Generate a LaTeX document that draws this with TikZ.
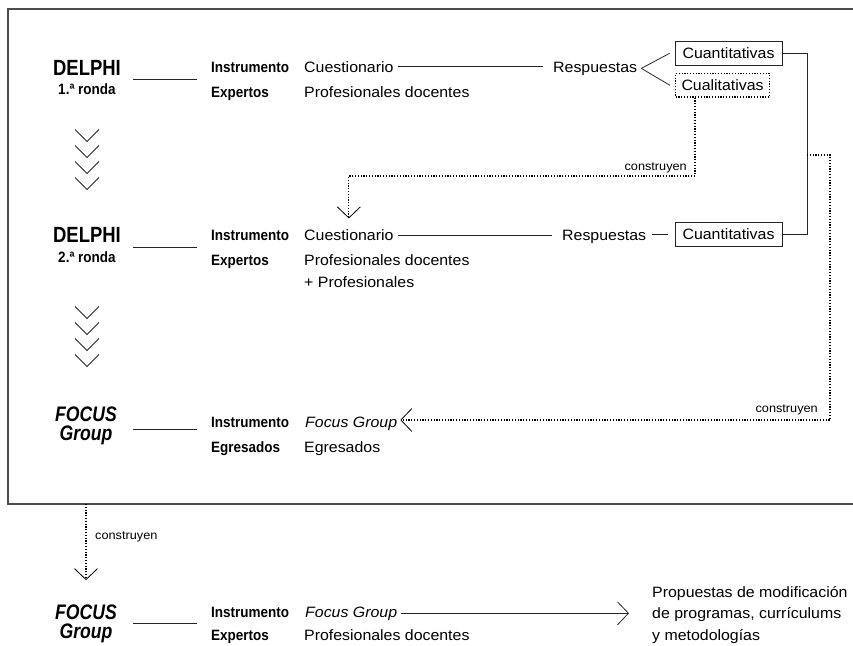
\documentclass[tikz,border=0pt]{standalone}
\usepackage{fontspec}
\setmainfont{Liberation Sans}[FakeStretch=1.06]
\newfontfamily\lblfont{Liberation Sans}[FakeStretch=0.9]
\newfontfamily\headfont{Liberation Sans}[FakeStretch=0.84]
\usetikzlibrary{arrows.meta}
\begin{document}
\begin{tikzpicture}[x=1pt,y=-1pt,
  txt/.style={inner sep=0pt, anchor=base west, font=\fontsize{15}{21.5}\selectfont},
  txti/.style={txt, font=\itshape\fontsize{15}{21}\selectfont},
  lbl/.style={inner sep=0pt, anchor=base west, font=\lblfont\bfseries\fontsize{15}{18}\selectfont},
  head/.style={inner sep=0pt, anchor=base, font=\headfont\bfseries\fontsize{22}{24}\selectfont},
  headit/.style={inner sep=0pt, anchor=base, font=\headfont\bfseries\itshape\fontsize{21}{24}\selectfont},
  small/.style={inner sep=0pt, font=\fontsize{12}{14}\selectfont},
  conn/.style={line width=0.8pt, draw=black!85},
  dots/.style={line width=1.2pt, dash pattern=on 1.2pt off 1.6pt, draw=black},
  vtip/.style={-{Straight Barb[length=11pt,width=23pt,line width=0.8pt]}},
  qbox/.style={draw=black!85, line width=0.8pt, inner sep=0pt, minimum height=23.5pt, font=\fontsize{15}{18}\selectfont},
  frame/.style={line width=1.3pt, draw=black!70}
]
\useasboundingbox (0,0) rectangle (853,645);

% frame
\coordinate (fr1) at (853,9);
\coordinate (fr2) at (8,9);
\coordinate (fr3) at (8,504);
\coordinate (fr4) at (853,504);
\draw[frame] (fr1) -- (fr2) -- (fr3) -- (fr4);

% ---------- Row 1 ----------
\node[head] (d1) at (87,75) {DELPHI};
\node[lbl, anchor=base] (d1r) at (87,94) {1.ª ronda};
\coordinate (h1a) at (133,79);
\coordinate (h1b) at (197,79);
\draw[conn] (h1a) -- (h1b);
\node[lbl] (i1) at (211,72) {Instrumento};
\node[lbl] (e1) at (211,97) {Expertos};
\node[txt] (q1) at (304,72) {Cuestionario};
\node[txt] (p1) at (304,97) {Profesionales docentes};
\node[txt] (r1) at (553,72) {Respuestas};
\draw[conn, shorten <=4pt, shorten >=10pt] (q1.east) -- (q1.east -| r1.west);
\node[qbox, minimum width=107pt] (c1) at (728.5,53.3) {Cuantitativas};
\node[qbox, dots, anchor=west, minimum width=94pt] (l1) at (675,85.3) {Cualitativas};
\draw[conn] ([xshift=4pt]r1.east) -- ([xshift=-5pt]c1.west);
\draw[conn] ([xshift=4pt]r1.east) -- ([xshift=-5pt]l1.west);

% chevrons 1
\foreach \yy in {129.5,145.5,161.5,177.5}{
  \draw[conn] (75,\yy) -- ++(12,12) -- ++(12,-12);
}

% ---------- Row 2 ----------
\node[head] (d2) at (87,242.5) {DELPHI};
\node[lbl, anchor=base] (d2r) at (87,262) {2.ª ronda};
\coordinate (h2a) at (133,247.7);
\coordinate (h2b) at (197,247.7);
\draw[conn] (h2a) -- (h2b);
\node[lbl] (i2) at (211,240.5) {Instrumento};
\node[lbl] (e2) at (211,265) {Expertos};
\node[txt] (q2) at (304,240.5) {Cuestionario};
\node[txt] (p2) at (304,265) {Profesionales docentes};
\node[txt] (p2b) at (304,287) {+ Profesionales};
\node[txt] (r2) at (562,240.5) {Respuestas};
\draw[conn, shorten <=4pt, shorten >=10pt] (q2.east) -- (q2.east -| r2.west);
\node[qbox, minimum width=107pt] (c2) at (728.5,234.2) {Cuantitativas};
\draw[conn, shorten <=6pt, shorten >=7pt] (c2.west -| r2.east) -- (c2.west);

% bracket between the two Cuantitativas boxes
\coordinate (bx) at (807,155);
\draw[conn] (c1.east) -- (c1.east -| bx) -- (c2.east -| bx) -- (c2.east);

% dotted: Cualitativas -> Cuestionario (2nd round)
\coordinate (m1) at (695,176);
\coordinate (m2) at (m1 -| q2.north);
\draw[dots, vtip] (l1.south -| m1) -- (m1) -- (m2) -- ([yshift=11pt]q2.north);
\node[small, anchor=base east] (lab1) at (687,170) {construyen};

% chevrons 2
\foreach \yy in {306.5,322.5,338.5,354.5}{
  \draw[conn] (75,\yy) -- ++(12,12) -- ++(12,-12);
}

% ---------- Row 3 ----------
\node[headit] (f3a) at (86,421) {FOCUS};
\node[headit] (f3b) at (86,440) {Group};
\coordinate (h3a) at (133,429);
\coordinate (h3b) at (197,429);
\draw[conn] (h3a) -- (h3b);
\node[lbl] (i3) at (211,427) {Instrumento};
\node[lbl] (e3) at (211,452) {Egresados};
\node[txti] (f3) at (305,427) {Focus Group};
\node[txt] (g3) at (304,452) {Egresados};

% dotted: bracket -> Focus Group
\coordinate (k1) at (830,155);
\coordinate (k2) at (830,420);
\draw[dots, vtip, shorten >=3pt] (bx) -- (k1) -- (k2) -- (f3.east |- k2);
\node[small, anchor=base east] (lab2) at (818,412) {construyen};

% ---------- Row 4 (outside frame) ----------
\node[headit] (f4a) at (86,619) {FOCUS};
\node[headit] (f4b) at (86,638) {Group};
\coordinate (h4a) at (133,623.5);
\coordinate (h4b) at (197,623.5);
\draw[conn] (h4a) -- (h4b);
\node[lbl] (i4) at (211,617) {Instrumento};
\node[lbl] (e4) at (211,640) {Expertos};
\node[txti] (f4) at (305,617) {Focus Group};
\node[txt] (p4) at (304,640) {Profesionales docentes};
\node[txt, align=left] (prop) at (652,640) {Propuestas de modificación\\de programas, currículums\\y metodologías};
\draw[conn, vtip, shorten <=4pt, shorten >=23pt] (f4.east) -- (f4.east -| prop.west);

% dotted: frame -> Focus Group (outside)
\coordinate (fb) at (86,504);
\draw[dots, vtip] (fb) -- ([yshift=24pt]f4a.north);
\node[small, anchor=base west] (lab3) at (95,539) {construyen};

\end{tikzpicture}
\end{document}
